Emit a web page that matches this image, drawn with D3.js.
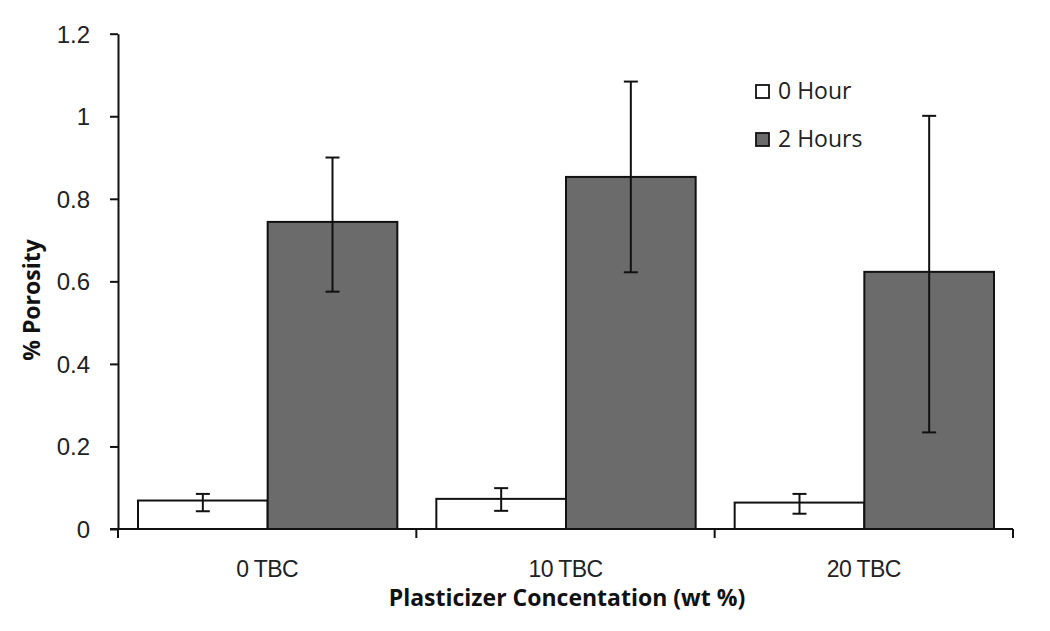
<!DOCTYPE html>
<html><head><meta charset="utf-8">
<script src="https://cdn.jsdelivr.net/npm/d3@7"></script>
<style>body{margin:0;background:#fff}svg{display:block;font-family:"Open Sans",Lato,sans-serif}</style>
</head><body><svg id="c" width="1050" height="631"></svg>
<script>
const categories = ["0 TBC", "10 TBC", "20 TBC"];
const seriesNames = ["0 Hour", "2 Hours"];
const hour0 = [0.069, 0.073, 0.064];
const hour0Low = [0.043, 0.044, 0.037];
const hour0High = [0.085, 0.099, 0.085];
const hour2 = [0.744, 0.853, 0.623];
const hour2Low = [0.575, 0.622, 0.234];
const hour2High = [0.900, 1.084, 1.001];
const yTicks = [0, 0.2, 0.4, 0.6, 0.8, 1, 1.2];
const colors = ["#ffffff", "#6b6b6b"];

const svg = d3.select("#c");
const m = {l:118, r:1013, t:33.7, b:529};
const x = d3.scaleBand().domain(categories).range([m.l, m.r]);
const y = d3.scaleLinear().domain([0, 1.2]).range([m.b, m.t]);

const series = [
  {name: seriesNames[0], v: hour0, lo: hour0Low, hi: hour0High, c: colors[0]},
  {name: seriesNames[1], v: hour2, lo: hour2Low, hi: hour2High, c: colors[1]}
];
const pad = 20;
const inner = d3.scaleBand().domain(seriesNames).range([pad, x.bandwidth() - pad + 1]);

series.forEach(s => {
  const g = svg.append("g");
  g.selectAll("rect").data(categories).join("rect")
    .attr("x", d => x(d) + inner(s.name))
    .attr("width", inner.bandwidth())
    .attr("y", (d,i) => y(s.v[i]))
    .attr("height", (d,i) => y(0) - y(s.v[i]))
    .attr("fill", s.c).attr("stroke", "#111").attr("stroke-width", 2);
});
series.forEach(s => {
  const g = svg.append("g").attr("stroke", "#111").attr("stroke-width", 2);
  categories.forEach((d,i) => {
    const cx = x(d) + inner(s.name) + inner.bandwidth()/2;
    g.append("line").attr("x1", cx).attr("x2", cx).attr("y1", y(s.lo[i])).attr("y2", y(s.hi[i]));
    g.append("line").attr("x1", cx-7).attr("x2", cx+7).attr("y1", y(s.lo[i])).attr("y2", y(s.lo[i]));
    g.append("line").attr("x1", cx-7).attr("x2", cx+7).attr("y1", y(s.hi[i])).attr("y2", y(s.hi[i]));
  });
});

// Y axis
const ya = svg.append("g").attr("transform", `translate(${m.l},0)`)
  .call(d3.axisLeft(y).tickValues(yTicks).tickFormat(d => String(d)).tickSize(8).tickSizeOuter(0));
ya.select(".domain").attr("stroke", "#111").attr("stroke-width", 2);
ya.selectAll(".tick line").attr("stroke", "#111").attr("stroke-width", 2);
ya.selectAll(".tick text").attr("font-size", 24).attr("fill", "#222").attr("x", -28).attr("dy", "0.35em");

// X axis
const xa = svg.append("g").attr("transform", `translate(0,${m.b})`)
  .call(d3.axisBottom(x).tickSize(0));
xa.select(".domain").remove();
xa.append("line").attr("x1", m.l - 8).attr("x2", m.r).attr("stroke", "#111").attr("stroke-width", 2);
const bounds = [m.l, ...categories.map(c => x(c) + x.bandwidth())];
xa.selectAll(".sep").data(bounds).join("line").attr("class","sep")
  .attr("x1", d => d).attr("x2", d => d).attr("y1", 0).attr("y2", 9)
  .attr("stroke", "#111").attr("stroke-width", 2);
xa.selectAll(".tick text").attr("font-size", 23).attr("fill", "#222").attr("y", 0).attr("dy", 48).attr("letter-spacing", -0.6);

// Titles
svg.append("text").attr("x", 567).attr("y", 606).attr("text-anchor", "middle")
  .attr("font-size", 23).attr("font-weight", "bold").attr("fill", "#111").text("Plasticizer Concentation (wt %)");
svg.append("text").attr("transform", "translate(40,300) rotate(-90)").attr("text-anchor", "middle")
  .attr("font-size", 23).attr("font-weight", "bold").attr("fill", "#111").text("% Porosity");

// Legend
const lg = svg.append("g");
series.forEach((s,i) => {
  const yy = 85 + i*48;
  lg.append("rect").attr("x", 756).attr("y", yy).attr("width", 13).attr("height", 13)
    .attr("fill", s.c).attr("stroke", "#111").attr("stroke-width", 1.8);
  lg.append("text").attr("x", 778).attr("y", yy + 14).attr("font-size", 23).attr("fill", "#222").text(s.name);
});
</script></body></html>
